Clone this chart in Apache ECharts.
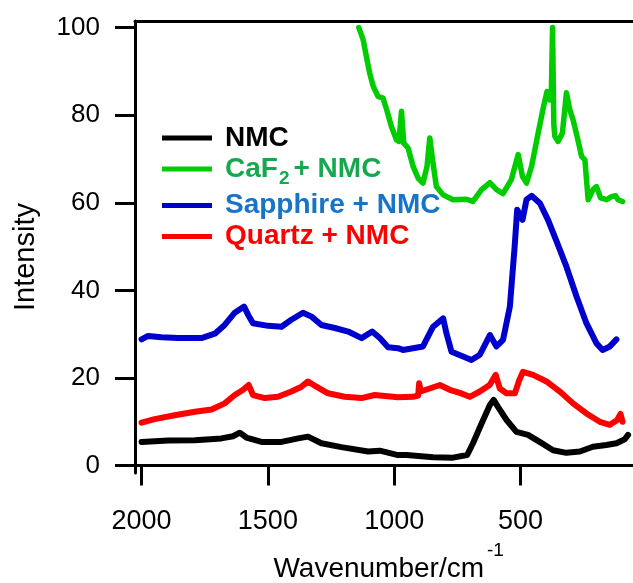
<!DOCTYPE html>
<html>
<head>
<meta charset="utf-8">
<script src="https://cdn.jsdelivr.net/npm/echarts@6/dist/echarts.min.js"></script>
<style>
  html, body { margin: 0; padding: 0; background: #fff; }
  #chart { width: 633px; height: 583px; }
</style>
</head>
<body>
<div id="chart"></div>
<script>
// Raman spectra: wavenumber (cm^-1) and intensity for each sample
const nmcWn = [2000, 1895, 1789, 1684, 1638, 1611, 1585, 1525, 1446, 1380, 1341, 1288, 1209, 1103, 1057, 985, 951, 846, 767, 711, 688, 654, 621, 606, 589, 555, 516, 470, 424, 371, 318, 265, 213, 160, 120, 87, 74];
const nmcI  = [5.4, 5.7, 5.8, 6.2, 6.7, 7.5, 6.4, 5.4, 5.4, 6.2, 6.6, 5.1, 4.2, 3.2, 3.4, 2.4, 2.4, 1.9, 1.8, 2.4, 5.1, 9.6, 13.8, 15.0, 13.4, 10.4, 7.7, 7.0, 5.4, 3.5, 2.9, 3.2, 4.3, 4.7, 5.1, 6.0, 7.0];

const caf2Wn = [1140, 1123, 1110, 1097, 1083, 1064, 1044, 1030, 1011, 991, 981, 971, 962, 945, 925, 905, 886, 870, 859, 848, 833, 806, 767, 714, 688, 654, 621, 595, 569, 536, 509, 492, 476, 456, 430, 410, 395, 384, 378, 373, 368, 364, 351, 334, 318, 305, 292, 276, 258, 245, 232, 213, 199, 183, 159, 140, 123, 114, 96];
const caf2I  = [100, 97.3, 93.4, 89.6, 86.6, 84.3, 83.9, 81.3, 77.4, 74.4, 74.0, 80.9, 73.6, 72.5, 68.3, 65.6, 64.5, 68.3, 74.8, 69.8, 63.7, 61.8, 60.7, 60.8, 60.3, 63.0, 64.6, 63.0, 62.1, 65.3, 71.0, 66.0, 64.5, 68.3, 75.9, 81.6, 85.4, 83.5, 84.5, 100, 78.0, 75.2, 74.0, 75.9, 85.1, 81.3, 79.0, 75.2, 70.6, 69.8, 60.7, 63.0, 63.7, 61.1, 60.7, 61.4, 61.6, 60.7, 60.3];

const sapphireWn = [2000, 1974, 1921, 1855, 1763, 1710, 1671, 1631, 1594, 1578, 1559, 1499, 1446, 1407, 1361, 1327, 1288, 1235, 1182, 1129, 1087, 1057, 1024, 985, 965, 886, 846, 806, 793, 773, 727, 694, 661, 621, 595, 569, 542, 523, 513, 492, 476, 456, 423, 391, 357, 318, 278, 239, 199, 175, 146, 120];
const sapphireI  = [28.8, 29.6, 29.3, 29.1, 29.1, 30.1, 32.1, 34.9, 36.3, 34.4, 32.5, 31.9, 31.7, 33.3, 34.9, 34.0, 32.1, 31.4, 30.6, 29.1, 30.6, 29.1, 27.0, 26.8, 26.4, 27.2, 31.7, 33.6, 30.2, 26.0, 24.9, 24.1, 25.3, 29.8, 27.2, 28.7, 36.3, 50.0, 58.4, 56.1, 60.7, 61.6, 59.9, 56.1, 51.2, 45.4, 38.6, 32.5, 27.9, 26.4, 27.2, 28.8];

const quartzWn = [2000, 1948, 1869, 1789, 1723, 1671, 1631, 1598, 1576, 1559, 1512, 1460, 1407, 1367, 1341, 1308, 1262, 1196, 1129, 1077, 985, 925, 905, 901, 895, 819, 780, 740, 701, 661, 622, 598, 582, 555, 522, 505, 490, 450, 397, 344, 292, 239, 186, 146, 117, 104, 96];
const quartzI  = [9.8, 10.6, 11.5, 12.3, 12.8, 14.2, 16.1, 17.3, 18.4, 16.1, 15.4, 15.7, 16.9, 18.0, 19.2, 18.0, 16.5, 15.7, 15.4, 16.1, 15.6, 15.7, 16.0, 18.8, 16.9, 18.4, 17.3, 16.6, 15.7, 16.9, 18.4, 20.7, 17.6, 16.5, 16.5, 19.5, 21.4, 20.7, 19.2, 16.9, 14.2, 11.9, 10.0, 9.3, 10.4, 11.8, 10.0];

const seriesNames  = ['NMC', 'CaF2 + NMC', 'Sapphire + NMC', 'Quartz + NMC'];
const xTickValues  = [2000, 1500, 1000, 500];
const yTickValues  = [0, 20, 40, 60, 80, 100];

const pairs = (xs, ys) => xs.map((x, i) => [x, ys[i]]);

const FONT = '"Liberation Sans", Arial, sans-serif';
// wavenumber axis runs high-to-low (inverse), so min sits at the right edge
const xRange = { min: 54.5, max: 2026 };

function lineSeries(name, color, xs, ys, width) {
  return {
    name: name,
    type: 'line',
    data: pairs(xs, ys),
    color: color,
    symbol: 'none',
    lineStyle: { width: width, color: color, join: 'round', cap: 'round' },
    emphasis: { disabled: true },
    silent: true
  };
}

const chart = echarts.init(document.getElementById('chart'), null, { renderer: 'canvas' });

chart.setOption({
  animation: false,
  backgroundColor: '#ffffff',
  grid: { left: 135, right: 0, top: 21, bottom: 110, containLabel: false },
  xAxis: [{
    type: 'value',
    inverse: true,
    min: xRange.min,
    max: xRange.max,
    splitLine: { show: false },
    axisLine: { show: true, lineStyle: { color: '#000', width: 3 } },
    axisTick: { show: true, inside: false, length: 20, lineStyle: { color: '#000', width: 3 }, customValues: xTickValues },
    axisLabel: {
      show: true, margin: 35, fontSize: 27, fontFamily: FONT, color: '#000',
      customValues: xTickValues,
      formatter: v => String(v)
    }
  }, {
    type: 'value',
    position: 'top',
    inverse: true,
    min: xRange.min,
    max: xRange.max,
    splitLine: { show: false },
    axisLine: { show: true, lineStyle: { color: '#000', width: 3 } },
    axisTick: { show: false },
    axisLabel: { show: false }
  }],
  yAxis: {
    type: 'value',
    min: -1.7,
    max: 101.5,
    splitLine: { show: false },
    axisLine: { show: true, lineStyle: { color: '#000', width: 3 } },
    axisTick: { show: true, inside: false, length: 20, lineStyle: { color: '#000', width: 3 }, customValues: yTickValues },
    axisLabel: { show: true, margin: 35, fontSize: 26, fontFamily: FONT, color: '#000', customValues: yTickValues }
  },
  legend: {
    orient: 'vertical',
    left: 162,
    top: 124,
    padding: 0,
    itemWidth: 50,
    itemHeight: 5,
    itemGap: 3,
    icon: 'rect',
    selectedMode: false,
    textStyle: {
      fontSize: 28,
      fontWeight: 'bold',
      fontFamily: FONT,
      lineHeight: 28,
      padding: [0, 0, 0, 8],
      rich: {
        g:  { fontSize: 28, fontWeight: 'bold', fontFamily: FONT, color: '#17a84f', lineHeight: 28 },
        gs: { fontSize: 19, fontWeight: 'bold', fontFamily: FONT, color: '#17a84f', padding: [10, 4, -10, 1] }
      }
    },
    formatter: function (name) {
      if (name === 'CaF2 + NMC') return '{g|CaF}{gs|2}{g|+ NMC}';
      return name;
    },
    data: [
      { name: seriesNames[0], textStyle: { color: '#000000' } },
      { name: seriesNames[1] },
      { name: seriesNames[2], textStyle: { color: '#1874c8' } },
      { name: seriesNames[3], textStyle: { color: '#ff0000' } }
    ]
  },
  graphic: [
    {
      type: 'text',
      x: 26, y: 257,
      rotation: Math.PI / 2,
      style: { text: 'Intensity', font: '29px ' + FONT, fill: '#000', align: 'center', verticalAlign: 'middle' }
    },
    {
      type: 'text',
      x: 484, y: 569,
      style: { text: 'Wavenumber/cm', font: '28px ' + FONT, fill: '#000', align: 'right', verticalAlign: 'middle' }
    },
    {
      type: 'text',
      x: 487, y: 551,
      style: { text: '-1', font: '19px ' + FONT, fill: '#000', align: 'left', verticalAlign: 'middle' }
    }
  ],
  series: [
    lineSeries(seriesNames[0], '#000000', nmcWn, nmcI, 6),
    lineSeries(seriesNames[1], '#00cc00', caf2Wn, caf2I, 5.5),
    lineSeries(seriesNames[2], '#0000cc', sapphireWn, sapphireI, 6),
    lineSeries(seriesNames[3], '#ff0000', quartzWn, quartzI, 6)
  ]
});
</script>
</body>
</html>
